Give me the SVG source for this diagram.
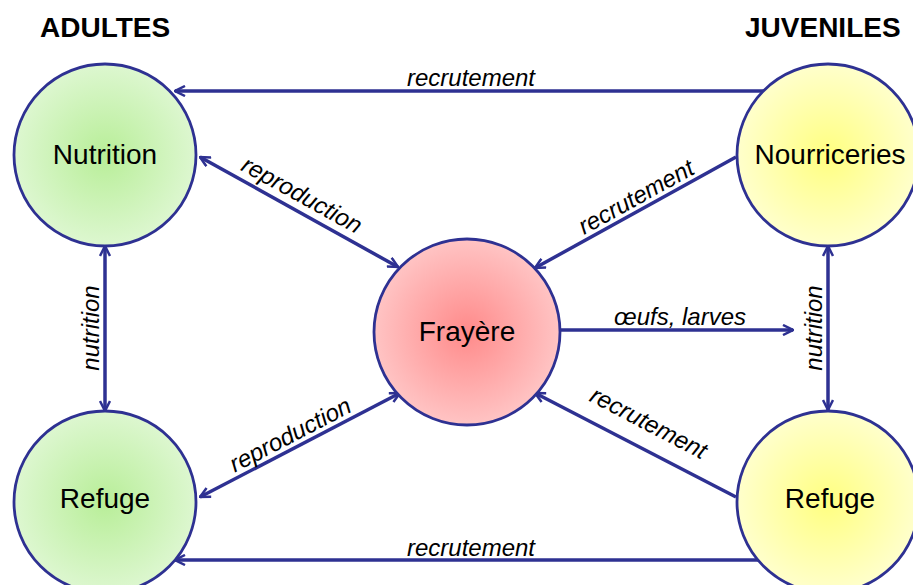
<svg xmlns="http://www.w3.org/2000/svg" width="913" height="585" viewBox="0 0 913 585">
<defs>
<radialGradient id="gGreen"><stop offset="0" stop-color="#b8ee98"/><stop offset="1" stop-color="#ddf7d0"/></radialGradient>
<radialGradient id="gYellow"><stop offset="0" stop-color="#ffff80"/><stop offset="1" stop-color="#ffffcc"/></radialGradient>
<radialGradient id="gRed"><stop offset="0" stop-color="#ff8a8a"/><stop offset="1" stop-color="#ffc4c4"/></radialGradient>
<marker id="ah" viewBox="0 0 12 12" refX="11" refY="6" markerWidth="12" markerHeight="12" markerUnits="userSpaceOnUse" orient="auto-start-reverse">
<path d="M1,1 L11,6 L1,11" fill="none" stroke="#2e3192" stroke-width="2.5"/>
</marker>
<style>
.node{stroke:#2e3192;stroke-width:2.8}
.nt{font-family:"Liberation Sans",Arial,sans-serif;font-size:28px;fill:#000;text-anchor:middle}
.hd{font-family:"Liberation Sans",Arial,sans-serif;font-size:28px;font-weight:bold;fill:#000}
.lb{font-family:"Liberation Sans",Arial,sans-serif;font-size:24px;font-style:italic;fill:#000;text-anchor:middle}
.cn{stroke:#2e3192;stroke-width:3.5;fill:none}
</style>
</defs>
<rect width="913" height="585" fill="#fff"/>
<text class="hd" x="40" y="37">ADULTES</text>
<text class="hd" x="745" y="37">JUVENILES</text>
<g id="connectors">
<line class="cn" x1="765" y1="91" x2="175" y2="91" marker-end="url(#ah)"/>
<line class="cn" x1="765" y1="560" x2="175" y2="560" marker-end="url(#ah)"/>
<line class="cn" x1="200" y1="157" x2="398" y2="267" marker-start="url(#ah)" marker-end="url(#ah)"/>
<line class="cn" x1="400" y1="393" x2="200" y2="497" marker-start="url(#ah)" marker-end="url(#ah)"/>
<line class="cn" x1="736" y1="157" x2="535" y2="268" marker-end="url(#ah)"/>
<line class="cn" x1="736" y1="497" x2="535" y2="393" marker-end="url(#ah)"/>
<line class="cn" x1="561" y1="330" x2="793" y2="330" marker-end="url(#ah)"/>
<line class="cn" x1="105" y1="246" x2="105" y2="411" marker-start="url(#ah)" marker-end="url(#ah)"/>
<line class="cn" x1="828" y1="246" x2="828" y2="410" marker-start="url(#ah)" marker-end="url(#ah)"/>
<text class="lb" x="471" y="86">recrutement</text>
<text class="lb" x="471" y="556">recrutement</text>
<text class="lb" transform="translate(298,202) rotate(29)">reproduction</text>
<text class="lb" transform="translate(294,442) rotate(-27.5)">reproduction</text>
<text class="lb" transform="translate(640,204) rotate(-29)">recrutement</text>
<text class="lb" transform="translate(645,430) rotate(27.5)">recrutement</text>
<text class="lb" x="680" y="325">œufs, larves</text>
<text class="lb" transform="translate(99,328) rotate(-90)">nutrition</text>
<text class="lb" transform="translate(822,328) rotate(-90)">nutrition</text>
</g>
<g id="node-nutrition"><circle class="node" cx="105" cy="155" r="91" fill="url(#gGreen)"/><text class="nt" x="105" y="164">Nutrition</text></g>
<g id="node-refuge-adultes"><circle class="node" cx="105" cy="502" r="91" fill="url(#gGreen)"/><text class="nt" x="105" y="508">Refuge</text></g>
<g id="node-frayere"><circle class="node" cx="467" cy="332" r="93" fill="url(#gRed)"/><text class="nt" x="467" y="341">Frayère</text></g>
<g id="node-nourriceries"><circle class="node" cx="828" cy="155" r="91" fill="url(#gYellow)"/><text class="nt" x="830" y="164">Nourriceries</text></g>
<g id="node-refuge-juveniles"><circle class="node" cx="828" cy="502" r="91" fill="url(#gYellow)"/><text class="nt" x="830" y="508">Refuge</text></g>
</svg>
